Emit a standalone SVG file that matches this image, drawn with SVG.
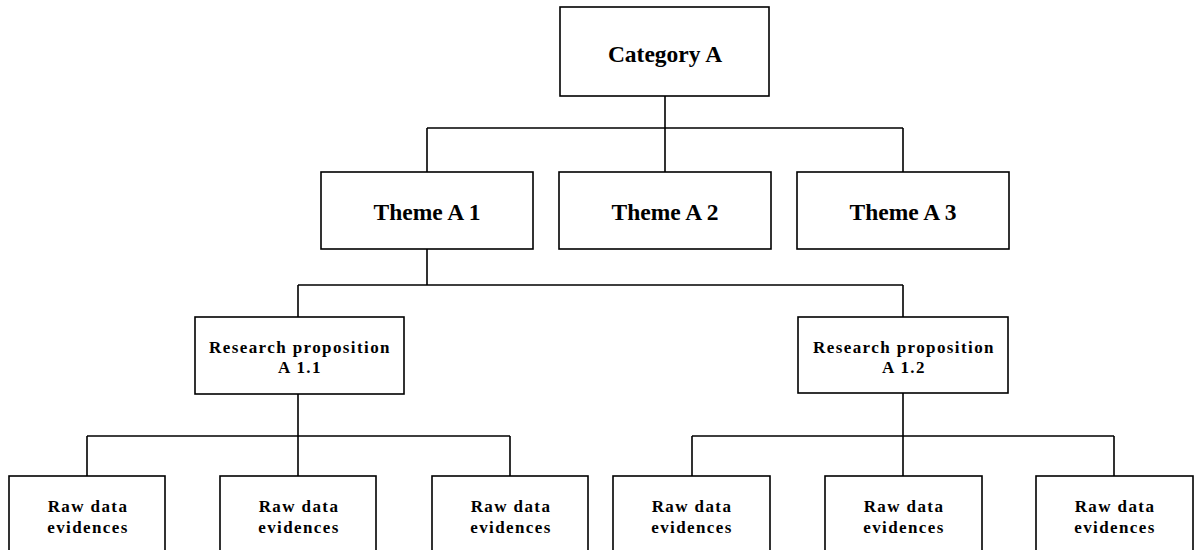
<svg xmlns="http://www.w3.org/2000/svg" width="1194" height="550" viewBox="0 0 1194 550">
  <style>
    .box { fill: #ffffff; stroke: #000000; stroke-width: 1.6; }
    .wire { fill: none; stroke: #000000; stroke-width: 1.6; }
    .lbl { font-family: "Liberation Serif", "Times New Roman", serif; font-weight: bold; fill: #000000; text-anchor: middle; }
    .big { font-size: 23.5px; }
    .small { font-size: 17px; letter-spacing: 1.4px; }
  </style>
  <rect width="1194" height="550" fill="#ffffff"/>

  <!-- connectors -->
  <g id="connectors">
    <path class="wire" d="M665 96 V128 M427 128 H903 M427 128 V172 M665 128 V172 M903 128 V172"/>
    <path class="wire" d="M427 249 V285 M298 285 H903 M298 285 V317 M903 285 V317"/>
    <path class="wire" d="M298 394 V436 M87 436 H510 M87 436 V476 M298 436 V476 M510 436 V476"/>
    <path class="wire" d="M903 393 V436 M692 436 H1114 M692 436 V476 M903 436 V476 M1114 436 V476"/>
  </g>

  <!-- top category -->
  <g id="category-a">
    <rect class="box" x="560" y="7" width="209" height="89"/>
    <text class="lbl big" x="665" y="62">Category A</text>
  </g>

  <!-- themes -->
  <g id="theme-a1">
    <rect class="box" x="321" y="172" width="212" height="77"/>
    <text class="lbl big" x="427" y="220">Theme A 1</text>
  </g>
  <g id="theme-a2">
    <rect class="box" x="559" y="172" width="212" height="77"/>
    <text class="lbl big" x="665" y="220">Theme A 2</text>
  </g>
  <g id="theme-a3">
    <rect class="box" x="797" y="172" width="212" height="77"/>
    <text class="lbl big" x="903" y="220">Theme A 3</text>
  </g>

  <!-- research propositions -->
  <g id="proposition-a11">
    <rect class="box" x="195" y="317" width="209" height="77"/>
    <text class="lbl small" x="300" y="353">Research proposition</text>
    <text class="lbl small" x="300" y="373">A 1.1</text>
  </g>
  <g id="proposition-a12">
    <rect class="box" x="798" y="317" width="210" height="76"/>
    <text class="lbl small" x="904" y="353">Research proposition</text>
    <text class="lbl small" x="904" y="373">A 1.2</text>
  </g>

  <!-- raw data evidence boxes (run off the bottom edge) -->
  <g id="raw-1">
    <rect class="box" x="9" y="476" width="156" height="90"/>
    <text class="lbl small" x="88" y="512">Raw data</text>
    <text class="lbl small" x="88" y="533">evidences</text>
  </g>
  <g id="raw-2">
    <rect class="box" x="220" y="476" width="156" height="90"/>
    <text class="lbl small" x="299" y="512">Raw data</text>
    <text class="lbl small" x="299" y="533">evidences</text>
  </g>
  <g id="raw-3">
    <rect class="box" x="432" y="476" width="156" height="90"/>
    <text class="lbl small" x="511" y="512">Raw data</text>
    <text class="lbl small" x="511" y="533">evidences</text>
  </g>
  <g id="raw-4">
    <rect class="box" x="613" y="476" width="157" height="90"/>
    <text class="lbl small" x="692" y="512">Raw data</text>
    <text class="lbl small" x="692" y="533">evidences</text>
  </g>
  <g id="raw-5">
    <rect class="box" x="825" y="476" width="157" height="90"/>
    <text class="lbl small" x="904" y="512">Raw data</text>
    <text class="lbl small" x="904" y="533">evidences</text>
  </g>
  <g id="raw-6">
    <rect class="box" x="1036" y="476" width="157" height="90"/>
    <text class="lbl small" x="1115" y="512">Raw data</text>
    <text class="lbl small" x="1115" y="533">evidences</text>
  </g>
</svg>
